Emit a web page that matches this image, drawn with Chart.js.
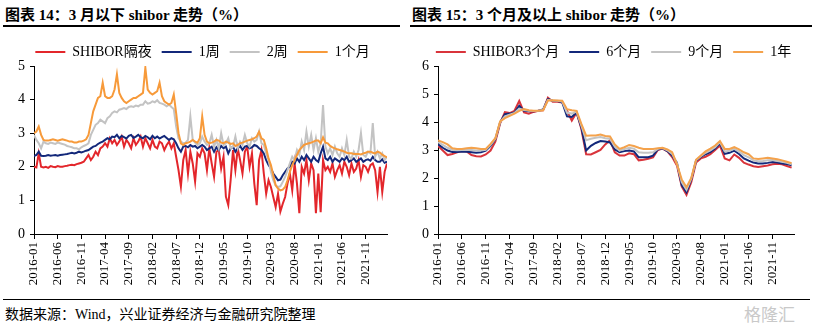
<!DOCTYPE html>
<html>
<head>
<meta charset="utf-8">
<script src="https://cdn.jsdelivr.net/npm/chart.js@4.4.1/dist/chart.umd.min.js"></script>
<style>
  body { margin: 0; background: #fff; }
  #page { position: relative; width: 814px; height: 325px; overflow: hidden;
          font-family: "Liberation Serif", "Noto Sans CJK SC", serif; color: #000; }
  .title { position: absolute; top: 3px; font-size: 15px; font-weight: bold; white-space: nowrap; }
  .rule { position: absolute; height: 2px; background: #000; }
  .chartbox { position: absolute; top: 28px; height: 272px; }
  #src { position: absolute; left: 5px; top: 303px; font-size: 14px; white-space: nowrap; }
  #wm { position: absolute; left: 744px; top: 301px; font-size: 17px; color: #c9c9c9; white-space: nowrap; }
</style>
</head>
<body>
<div id="page">
  <div class="title" style="left:5px">图表 14：3 月以下 shibor 走势（%）</div>
  <div class="title" style="left:412px">图表 15：3 个月及以上 shibor 走势（%）</div>
  <div class="rule" style="left:3px; top:25px; width:397px"></div>
  <div class="rule" style="left:410px; top:25px; width:402px"></div>
  <div class="chartbox" style="left:0; width:405px"><canvas id="c1"></canvas></div>
  <div class="chartbox" style="left:405px; width:409px"><canvas id="c2"></canvas></div>
  <div class="rule" style="left:3px; top:299px; width:807px; height:1px"></div>
  <div id="src">数据来源：Wind，兴业证券经济与金融研究院整理</div>
  <div id="wm">格隆汇</div>
</div>
<script>
// x axis tick labels, one every 5 months starting 2016-01
const tickLabels = ['2016-01', '2016-06', '2016-11', '2017-04', '2017-09', '2018-02', '2018-07',
  '2018-12', '2019-05', '2019-10', '2020-03', '2020-08', '2021-01', '2021-06', '2021-11'];

// left chart: two readings per month, 2016-01 .. 2022-03
const leftNames = ['SHIBOR隔夜', '1周', '2周', '1个月'];
const overnight = [
  2.00,1.98, 2.40,2.00, 1.98,2.00, 1.97,2.02, 2.00,1.99, 2.02,2.00, 2.00,2.02, 2.03,2.05, 2.06,2.05, 2.08,2.10, 2.12,2.15, 2.25,2.35,
  2.20,2.30, 2.45,2.35, 2.55,2.60, 2.70,2.60, 2.85,2.70, 2.80,2.65, 2.75,2.90, 2.60,2.80, 2.70,2.55, 2.85,2.65, 2.75,2.90, 2.60,2.85,
  2.70,2.55, 2.80,2.60, 2.55,2.75, 2.70,2.50, 2.65,2.75, 2.55,2.70, 2.30,1.90, 1.41,2.20, 2.50,1.80, 2.45,2.10, 1.56,2.40, 2.30,2.55,
  2.40,1.90, 2.55,2.10, 1.70,2.45, 2.50,1.95, 2.30,1.11, 0.86,1.60, 2.50,1.90, 2.55,2.20, 1.80,2.45, 2.60,2.00, 2.40,1.50, 0.86,2.20,
  2.50,1.80, 1.20,1.60, 1.40,1.10, 0.80,1.20, 0.67,0.90, 1.10,1.50, 1.80,1.30, 2.10,1.50, 0.62,2.00, 1.80,2.20, 1.60,2.10, 1.90,0.62,
  1.80,0.65, 2.20,1.90, 2.00,1.85, 2.10,1.70, 1.90,2.05, 1.80,2.15, 2.00,1.75, 2.10,1.85, 1.95,2.20, 1.70,2.05, 2.00,1.85, 2.05,2.10, 1.90,1.25, 2.00,1.25, 1.85,2.10
];
const week1 = [
  2.32,2.35, 2.45,2.33, 2.32,2.33, 2.35,2.33, 2.34,2.35, 2.33,2.35, 2.36,2.37, 2.38,2.40, 2.42,2.40, 2.42,2.45, 2.43,2.45, 2.48,2.50,
  2.55,2.60, 2.62,2.68, 2.72,2.75, 2.80,2.85, 2.82,2.90, 2.88,2.95, 2.85,2.92, 2.88,2.84, 2.92,2.95, 2.86,2.90, 2.95,2.88, 2.85,2.92,
  2.88,2.82, 2.92,2.85, 2.90,2.84, 2.88,2.92, 2.86,2.80, 2.85,2.82, 2.70,2.55, 2.45,2.60, 2.62,2.58, 2.65,2.60, 2.62,2.55, 2.60,2.65,
  2.60,2.50, 2.55,2.60, 2.45,2.58, 2.50,2.62, 2.55,2.60, 2.40,2.55, 2.60,2.45, 2.55,2.62, 2.50,2.60, 2.62,2.55, 2.58,2.65, 2.62,2.55,
  2.50,2.40, 2.20,2.05, 1.95,1.80, 1.70,1.60, 1.62,1.75, 1.85,1.95, 2.00,2.15, 2.10,2.25, 2.15,2.30, 2.20,2.35, 2.25,2.15, 2.30,2.20,
  2.15,2.40, 2.60,2.25, 2.20,2.30, 2.15,2.25, 2.20,2.15, 2.25,2.20, 2.30,2.15, 2.20,2.25, 2.15,2.20, 2.25,2.15, 2.20,2.22, 2.18,2.30, 2.20,2.15, 2.15,2.22, 2.12,2.15
];
const week2 = [
  2.95,2.80, 2.70,2.55, 2.75,2.70, 2.68,2.72, 2.70,2.68, 2.72,2.70, 2.68,2.66, 2.62,2.60, 2.58,2.55, 2.55,2.52, 2.58,2.62, 2.65,2.70,
  2.95,3.10, 3.25,3.30, 3.40,3.35, 3.30,3.45, 3.50,3.60, 3.65,3.62, 3.70,3.72, 3.75,3.72, 3.78,3.80, 3.78,3.82, 3.80,3.85, 3.85,3.95,
  3.88,3.90, 3.95,3.92, 3.98,3.90, 3.88,3.85, 3.80,3.85, 3.78,3.72, 3.20,2.85, 2.75,2.70, 2.72,2.80, 3.50,2.80, 2.72,2.65, 2.70,2.90,
  2.75,2.65, 2.70,2.95, 2.60,2.80, 2.55,3.00, 2.65,2.70, 2.85,2.55, 2.60,2.90, 2.55,2.75, 2.65,2.95, 2.70,2.60, 2.85,2.75, 2.80,3.05,
  2.70,2.65, 2.40,2.20, 1.85,1.60, 1.45,1.40, 1.42,1.55, 1.70,1.90, 2.10,2.30, 2.20,2.50, 2.35,2.75, 2.50,3.05, 2.60,2.95, 2.50,2.85,
  2.45,2.70, 3.84,2.60, 2.40,2.55, 2.35,2.60, 2.40,2.30, 2.55,2.35, 2.80,2.30, 2.25,2.45, 2.30,2.50, 3.00,2.35, 2.30,2.45, 2.40,3.30, 2.30,2.45, 2.25,2.40, 2.20,2.30
];
const month1 = [
  3.00,3.05, 3.20,2.95, 2.80,2.78, 2.78,2.80, 2.82,2.80, 2.78,2.80, 2.82,2.80, 2.78,2.75, 2.75,2.72, 2.72,2.75, 2.75,2.78, 2.82,2.95,
  3.30,3.65, 3.85,4.05, 4.10,4.50, 4.10,4.05, 4.05,4.10, 4.30,4.75, 4.20,4.05, 3.95,3.90, 3.95,4.00, 4.05,4.05, 4.10,4.15, 4.20,4.95,
  4.30,4.20, 4.15,4.20, 4.25,4.50, 4.10,3.95, 3.90,3.85, 3.90,4.15, 3.60,3.00, 2.70,2.65, 2.70,2.72, 2.75,2.80, 2.75,2.72, 2.85,3.50,
  2.95,2.75, 2.70,2.72, 2.75,2.80, 2.78,2.72, 2.70,2.75, 2.72,2.68, 2.70,2.62, 2.65,2.70, 2.72,2.75, 2.78,2.80, 2.82,2.85, 2.90,3.04,
  2.85,2.80, 2.55,2.25, 2.05,1.75, 1.45,1.35, 1.30,1.32, 1.40,1.60, 1.85,2.05, 2.20,2.35, 2.50,2.58, 2.65,2.68, 2.70,2.72, 2.75,2.78,
  2.78,2.70, 2.88,2.72, 2.70,2.62, 2.58,2.55, 2.52,2.50, 2.48,2.45, 2.42,2.40, 2.40,2.38, 2.38,2.38, 2.37,2.40, 2.42,2.45, 2.45,2.42, 2.40,2.45, 2.42,2.36, 2.32,2.28
];

// right chart: one reading per month, 2016-01 .. 2022-03
const rightNames = ['SHIBOR3个月', '6个月', '9个月', '1年'];
const month3 = [
  3.15,2.98,2.82,2.86,2.92,2.96,2.95,2.82,2.78,2.77,2.84,2.98,
  3.30,3.95,4.35,4.32,4.40,4.75,4.34,4.30,4.36,4.40,4.42,4.87,
  4.72,4.72,4.70,4.40,4.05,4.34,3.75,2.85,2.84,2.92,3.00,3.20,
  3.35,2.92,2.80,2.80,2.88,2.85,2.63,2.65,2.69,2.74,3.00,3.05,
  2.95,2.75,2.45,1.70,1.40,1.85,2.55,2.70,2.76,2.85,3.00,3.16,
  2.70,2.63,2.84,2.72,2.55,2.48,2.42,2.39,2.42,2.45,2.49,2.51,2.49,2.43,2.37
];
const month6 = [
  3.21,3.08,2.98,2.93,2.93,2.95,2.94,2.92,2.90,2.92,2.98,3.15,
  3.38,3.99,4.28,4.30,4.34,4.58,4.40,4.38,4.38,4.40,4.45,4.82,
  4.76,4.75,4.70,4.20,4.18,4.34,3.81,2.98,3.15,3.25,3.32,3.30,
  3.27,3.02,2.92,2.96,2.98,2.95,2.74,2.74,2.74,2.80,3.02,3.06,
  2.96,2.80,2.55,1.75,1.49,1.95,2.62,2.75,2.85,2.92,3.05,3.24,
  2.86,2.90,2.98,2.86,2.70,2.62,2.55,2.52,2.52,2.54,2.57,2.55,2.52,2.50,2.45
];
const month9 = [
  3.28,3.18,3.08,3.00,2.99,3.00,3.00,3.00,2.98,2.98,3.01,3.18,
  3.40,4.00,4.20,4.26,4.32,4.48,4.43,4.40,4.39,4.40,4.43,4.79,
  4.77,4.76,4.73,4.33,4.30,4.37,3.87,3.35,3.40,3.44,3.46,3.42,
  3.40,3.12,2.98,3.03,3.08,3.05,2.92,2.90,2.90,2.92,3.04,3.07,
  2.99,2.86,2.52,1.85,1.58,1.98,2.63,2.78,2.90,2.99,3.10,3.28,
  2.95,2.97,3.04,2.94,2.82,2.74,2.63,2.60,2.61,2.63,2.64,2.61,2.58,2.54,2.49
];
const year1 = [
  3.34,3.28,3.20,3.06,3.04,3.04,3.06,3.08,3.06,3.04,3.04,3.22,
  3.42,4.02,4.14,4.22,4.30,4.40,4.46,4.42,4.40,4.40,4.42,4.77,
  4.78,4.77,4.76,4.46,4.42,4.40,3.93,3.51,3.52,3.52,3.55,3.50,
  3.48,3.20,3.04,3.10,3.18,3.14,3.08,3.04,3.04,3.04,3.06,3.08,
  3.02,2.92,2.50,1.95,1.67,2.00,2.65,2.80,2.95,3.05,3.16,3.32,
  3.04,3.04,3.10,3.02,2.92,2.85,2.70,2.68,2.70,2.72,2.70,2.67,2.63,2.58,2.53
];

const leftColors = ['#E3262B', '#13287A', '#C3C3C3', '#F79A3A'];
const rightColors = ['#D9343B', '#13287A', '#C3C3C3', '#F4A24C'];

Chart.defaults.font.family = '"Liberation Serif", "Noto Sans CJK SC", serif';
Chart.defaults.color = '#000';

function makeChart(id, names, series, colors, step, yMax, yWidth, padRight, legendShift) {
  const datasets = series.map((vals, i) => ({
    label: names[i],
    data: vals.map((v, j) => ({ x: j * step, y: v })),
    borderColor: colors[i],
    backgroundColor: colors[i],
    borderWidth: 2,
    pointRadius: 0,
    order: series.length - i
  }));

  // pin the legend height and nudge it sideways so the plot box lands where the original has it
  const fixLayout = {
    id: 'fixLayout',
    afterInit(chart) {
      const lg = chart.legend;
      const fit = lg.fit;
      lg.fit = function () { fit.call(this); this.height = 31; };
    },
    afterLayout(chart) {
      chart.legend.left += legendShift;
      chart.legend.right += legendShift;
    }
  };

  return new Chart(document.getElementById(id), {
    type: 'line',
    data: { datasets },
    plugins: [fixLayout],
    options: {
      responsive: true,
      maintainAspectRatio: false,
      animation: false,
      layout: { padding: { top: 7, right: padRight, left: 0, bottom: 0 } },
      scales: {
        x: {
          type: 'linear',
          min: 0,
          max: 74.5,
          border: { display: true, color: '#000', width: 1 },
          grid: { drawOnChartArea: false, drawTicks: true, tickLength: 5, color: '#000' },
          ticks: {
            stepSize: 5,
            includeBounds: false,
            autoSkip: false,
            minRotation: 90,
            maxRotation: 90,
            padding: 3,
            font: { size: 13, family: '"Liberation Serif", serif' },
            callback: (v) => tickLabels[v / 5]
          },
          afterFit: (s) => { s.height = 66; }
        },
        y: {
          min: 0,
          max: yMax,
          border: { display: true, color: '#000', width: 1 },
          grid: { drawOnChartArea: false, tickLength: 4, color: '#000' },
          ticks: { stepSize: 1, padding: 5, font: { size: 14, family: '"Liberation Serif", serif' } },
          afterFit: (s) => { s.width = yWidth; }
        }
      },
      plugins: {
        tooltip: { enabled: false },
        legend: {
          position: 'top',
          labels: {
            usePointStyle: true,
            pointStyle: 'line',
            pointStyleWidth: 30,
            padding: 10,
            font: { size: 14 },
            sort: (a, b) => a.datasetIndex - b.datasetIndex
          }
        }
      }
    }
  });
}

makeChart('c1', leftNames, [overnight, week1, week2, month1], leftColors, 0.5, 5, 34, 18, 9);
makeChart('c2', rightNames, [month3, month6, month9, year1], rightColors, 1, 6, 33, 20, 14);
</script>
</body>
</html>
